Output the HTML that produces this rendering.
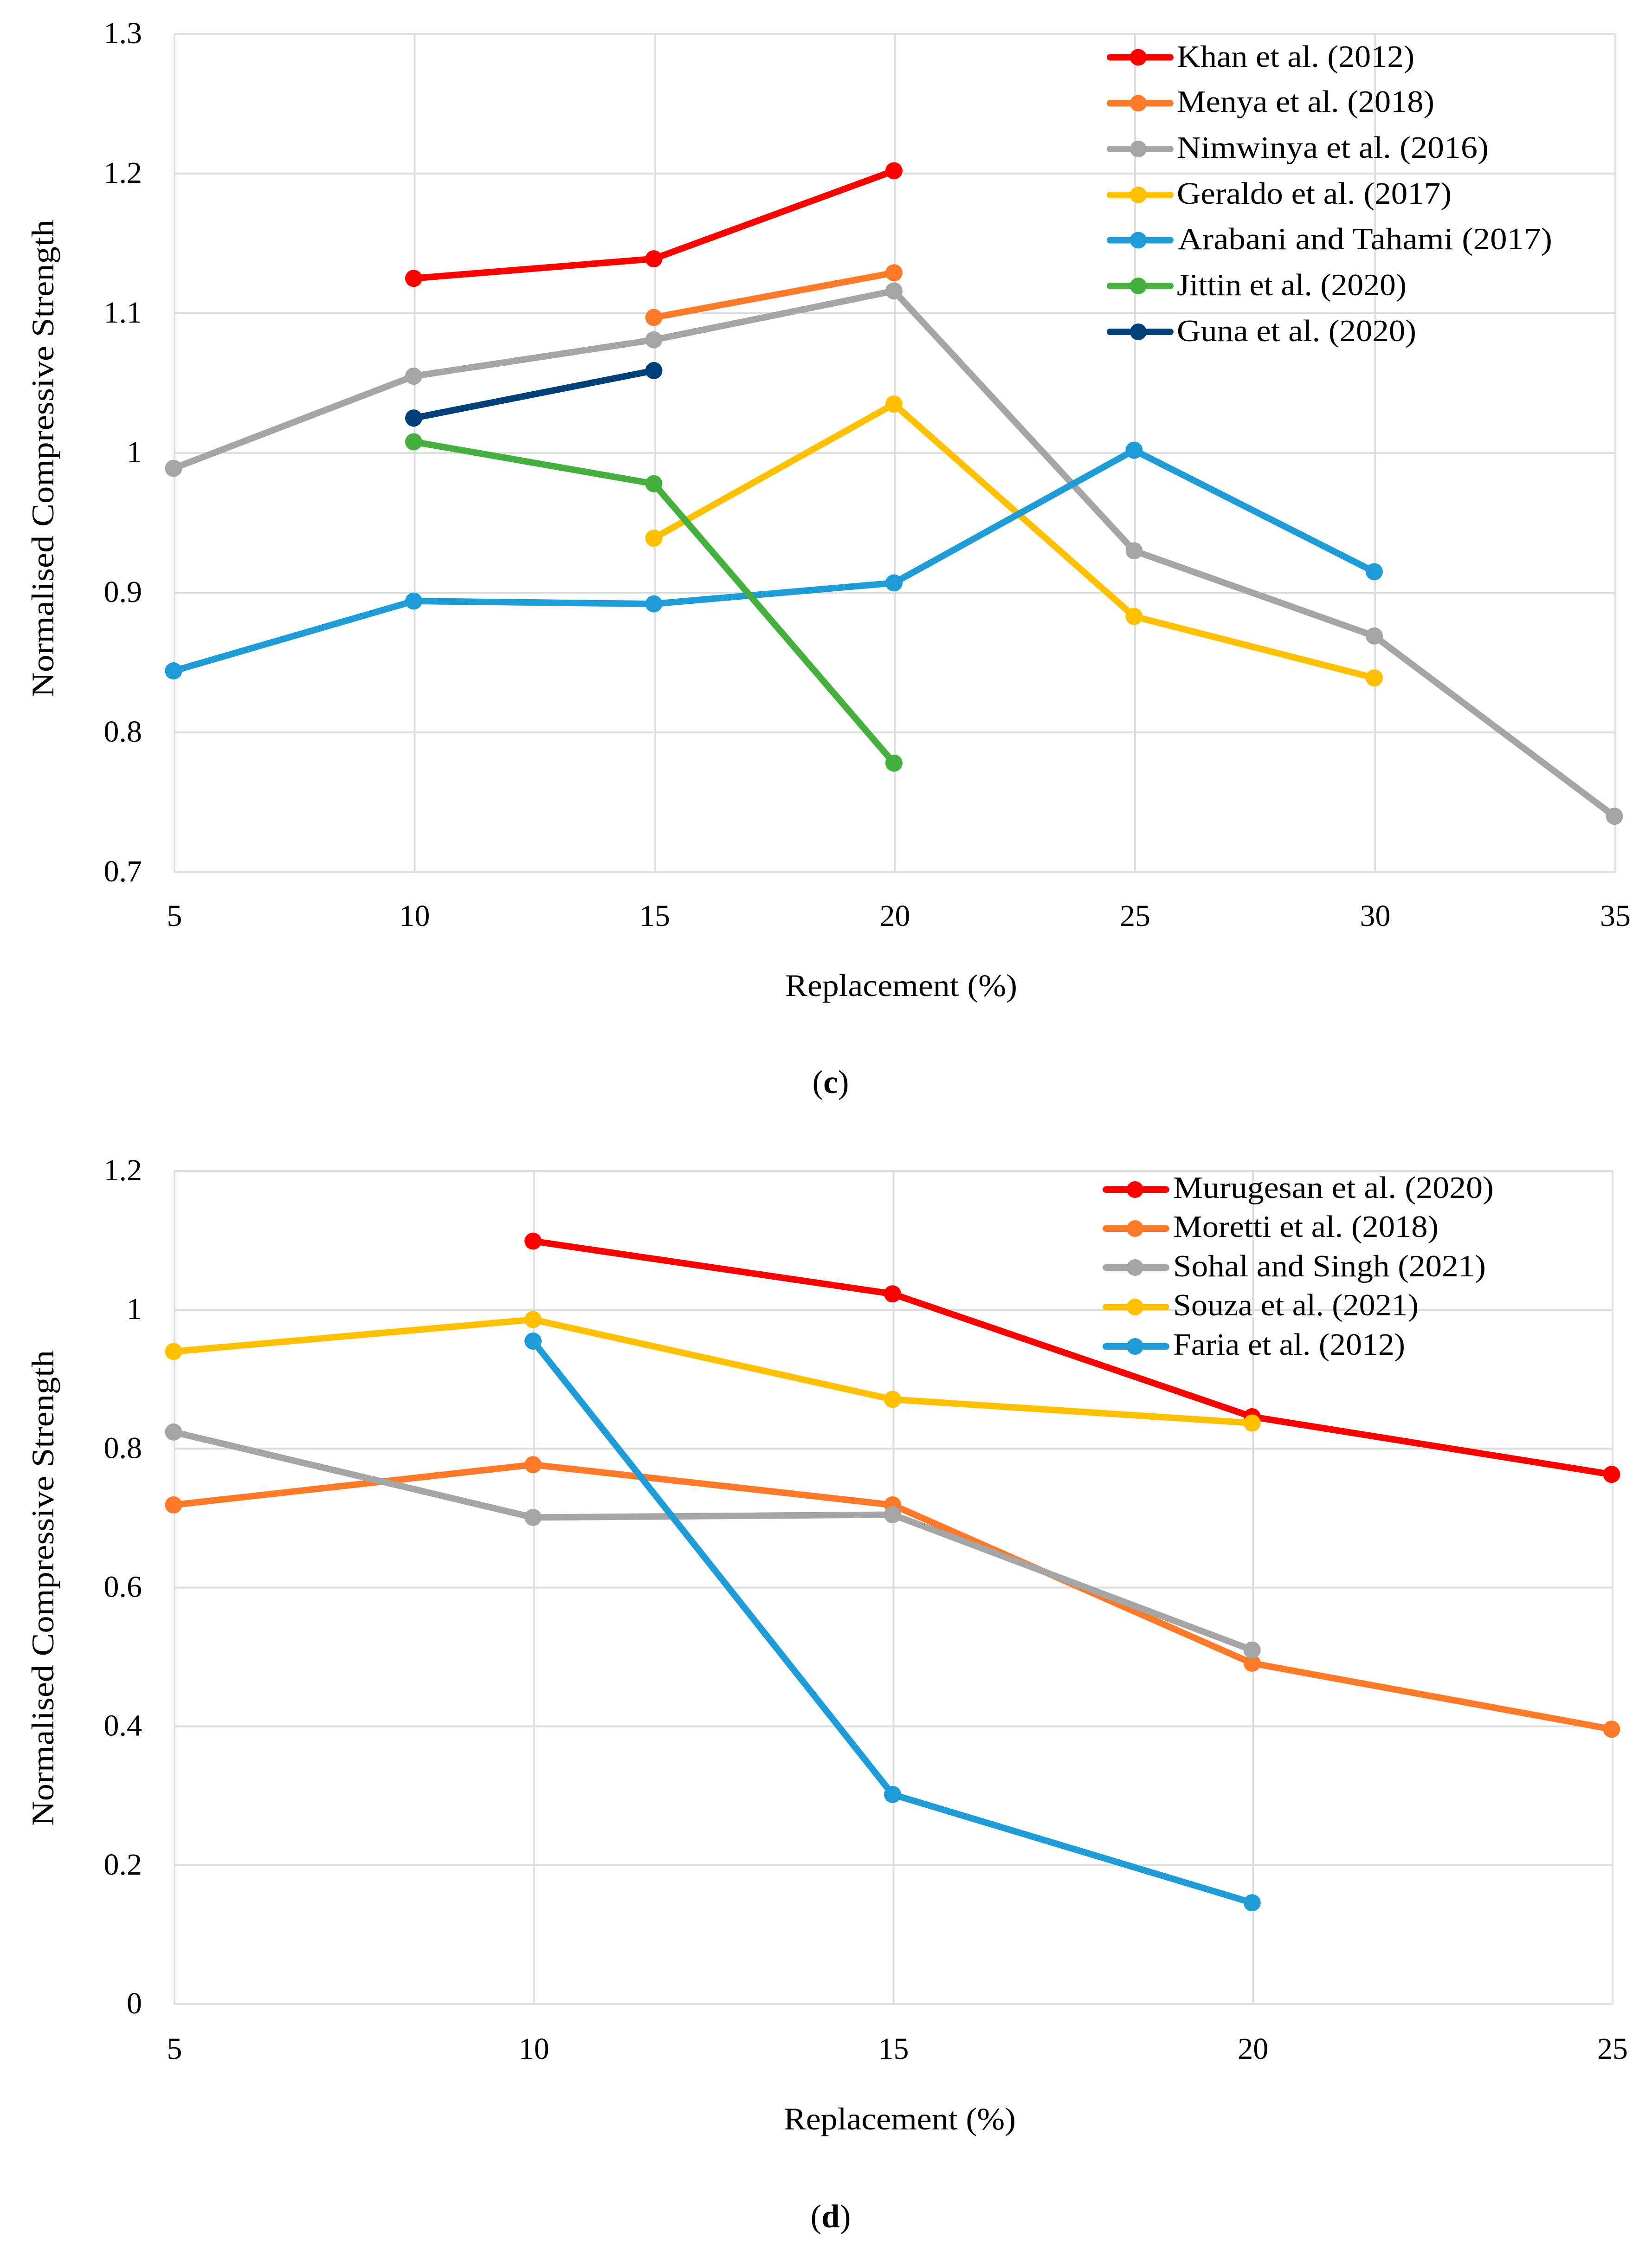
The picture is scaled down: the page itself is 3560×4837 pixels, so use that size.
<!DOCTYPE html>
<html lang="en">
<head>
<meta charset="utf-8">
<title>Normalised Compressive Strength vs Replacement</title>
<style>
html,body{margin:0;padding:0;background:#fff;}
svg{display:block;}
text{font-family:"Liberation Serif",serif;font-size:68px;fill:#000;}
.legend-text{font-size:67px;}
.tick{font-size:66px;}
.caption{font-size:71px;}
</style>
</head>
<body>
<svg id="figure" xmlns="http://www.w3.org/2000/svg" width="3560" height="4837" viewBox="0 0 3560 4837">
  <rect width="3560" height="4837" fill="#ffffff"/>

  <g id="chart-c">
    <g id="c-grid"></g>
    <g id="c-ticks"></g>
    <g id="c-series"></g>
    <text transform="translate(115,1502) rotate(-90)" textLength="1029" lengthAdjust="spacingAndGlyphs">Normalised Compressive Strength</text>
    <text x="1692" y="2146" textLength="500" lengthAdjust="spacingAndGlyphs">Replacement (%)</text>
    <text class="caption" x="1790" y="2355" text-anchor="middle">(<tspan font-weight="bold">c</tspan>)</text>
    <g>
      <g>
        <line x1="2392" x2="2522" y1="123.5" y2="123.5" stroke="#ff0000" stroke-width="14" stroke-linecap="round"/>
        <circle cx="2453" cy="123.5" r="18" fill="#ff0000"/>
        <text class="legend-text" x="2536" y="144" textLength="512" lengthAdjust="spacingAndGlyphs">Khan et al. (2012)</text>
      </g>
      <g>
        <line x1="2392" x2="2522" y1="222.5" y2="222.5" stroke="#fe7a29" stroke-width="14" stroke-linecap="round"/>
        <circle cx="2453" cy="222.5" r="18" fill="#fe7a29"/>
        <text class="legend-text" x="2536" y="241" textLength="555" lengthAdjust="spacingAndGlyphs">Menya et al. (2018)</text>
      </g>
      <g>
        <line x1="2392" x2="2522" y1="321" y2="321" stroke="#a5a5a5" stroke-width="14" stroke-linecap="round"/>
        <circle cx="2453" cy="321" r="18" fill="#a5a5a5"/>
        <text class="legend-text" x="2536" y="340" textLength="672" lengthAdjust="spacingAndGlyphs">Nimwinya et al. (2016)</text>
      </g>
      <g>
        <line x1="2392" x2="2522" y1="420" y2="420" stroke="#ffc000" stroke-width="14" stroke-linecap="round"/>
        <circle cx="2453" cy="420" r="18" fill="#ffc000"/>
        <text class="legend-text" x="2536" y="439" textLength="592" lengthAdjust="spacingAndGlyphs">Geraldo et al. (2017)</text>
      </g>
      <g>
        <line x1="2392" x2="2522" y1="517.5" y2="517.5" stroke="#1e9cd8" stroke-width="14" stroke-linecap="round"/>
        <circle cx="2453" cy="517.5" r="18" fill="#1e9cd8"/>
        <text class="legend-text" x="2538" y="537" textLength="807" lengthAdjust="spacingAndGlyphs">Arabani and Tahami (2017)</text>
      </g>
      <g>
        <line x1="2392" x2="2522" y1="616" y2="616" stroke="#46b03f" stroke-width="14" stroke-linecap="round"/>
        <circle cx="2453" cy="616" r="18" fill="#46b03f"/>
        <text class="legend-text" x="2536" y="636" textLength="495" lengthAdjust="spacingAndGlyphs">Jittin et al. (2020)</text>
      </g>
      <g>
        <line x1="2392" x2="2522" y1="715" y2="715" stroke="#003f78" stroke-width="14" stroke-linecap="round"/>
        <circle cx="2453" cy="715" r="18" fill="#003f78"/>
        <text class="legend-text" x="2536" y="735" textLength="516" lengthAdjust="spacingAndGlyphs">Guna et al. (2020)</text>
      </g>
    </g>
  </g>

  <g id="chart-d">
    <g id="d-grid"></g>
    <g id="d-ticks"></g>
    <g id="d-series"></g>
    <text transform="translate(115,3934) rotate(-90)" textLength="1025" lengthAdjust="spacingAndGlyphs">Normalised Compressive Strength</text>
    <text x="1689" y="4588" textLength="500" lengthAdjust="spacingAndGlyphs">Replacement (%)</text>
    <text class="caption" x="1790" y="4799" text-anchor="middle">(<tspan font-weight="bold">d</tspan>)</text>
    <g>
      <g>
        <line x1="2383" x2="2513" y1="2563" y2="2563" stroke="#ff0000" stroke-width="14" stroke-linecap="round"/>
        <circle cx="2446" cy="2563" r="18" fill="#ff0000"/>
        <text class="legend-text" x="2528" y="2581" textLength="691" lengthAdjust="spacingAndGlyphs">Murugesan et al. (2020)</text>
      </g>
      <g>
        <line x1="2383" x2="2513" y1="2647" y2="2647" stroke="#fe7a29" stroke-width="14" stroke-linecap="round"/>
        <circle cx="2446" cy="2647" r="18" fill="#fe7a29"/>
        <text class="legend-text" x="2528" y="2665" textLength="572" lengthAdjust="spacingAndGlyphs">Moretti et al. (2018)</text>
      </g>
      <g>
        <line x1="2383" x2="2513" y1="2731" y2="2731" stroke="#a5a5a5" stroke-width="14" stroke-linecap="round"/>
        <circle cx="2446" cy="2731" r="18" fill="#a5a5a5"/>
        <text class="legend-text" x="2528" y="2750" textLength="674" lengthAdjust="spacingAndGlyphs">Sohal and Singh (2021)</text>
      </g>
      <g>
        <line x1="2383" x2="2513" y1="2816" y2="2816" stroke="#ffc000" stroke-width="14" stroke-linecap="round"/>
        <circle cx="2446" cy="2816" r="18" fill="#ffc000"/>
        <text class="legend-text" x="2528" y="2834" textLength="529" lengthAdjust="spacingAndGlyphs">Souza et al. (2021)</text>
      </g>
      <g>
        <line x1="2383" x2="2513" y1="2901" y2="2901" stroke="#1e9cd8" stroke-width="14" stroke-linecap="round"/>
        <circle cx="2446" cy="2901" r="18" fill="#1e9cd8"/>
        <text class="legend-text" x="2528" y="2919" textLength="500" lengthAdjust="spacingAndGlyphs">Faria et al. (2012)</text>
      </g>
    </g>
  </g>
</svg>

<script>
// Chart (c) data
const cCategories = [5, 10, 15, 20, 25, 30, 35];
const cYTickValues = [0.7, 0.8, 0.9, 1.0, 1.1, 1.2, 1.3];
const cYTickLabels = ['0.7', '0.8', '0.9', '1', '1.1', '1.2', '1.3'];
const cKhan     = [null, 1.125, 1.139, 1.202, null, null, null];
const cMenya    = [null, null, 1.097, 1.129, null, null, null];
const cNimwinya = [0.989, 1.055, 1.081, 1.116, 0.930, 0.869, 0.740];
const cGeraldo  = [null, null, 0.939, 1.035, 0.883, 0.839, null];
const cArabani  = [0.844, 0.894, 0.892, 0.907, 1.002, 0.915, null];
const cJittin   = [null, 1.008, 0.978, 0.778, null, null, null];
const cGuna     = [null, 1.025, 1.059, null, null, null, null];

// Chart (d) data
const dCategories = [5, 10, 15, 20, 25];
const dYTickValues = [0, 0.2, 0.4, 0.6, 0.8, 1.0, 1.2];
const dYTickLabels = ['0', '0.2', '0.4', '0.6', '0.8', '1', '1.2'];
const dMurugesan = [null, 1.099, 1.023, 0.846, 0.763];
const dMoretti   = [0.719, 0.777, 0.719, 0.491, 0.396];
const dSohal     = [0.824, 0.701, 0.705, 0.510, null];
const dSouza     = [0.940, 0.986, 0.871, 0.837, null];
const dFaria     = [null, 0.955, 0.302, 0.146, null];

const SVG_NS = 'http://www.w3.org/2000/svg';
const MARK_OFFSET_X = -2;

function make(parent, tag, attrs) {
  const el = document.createElementNS(SVG_NS, tag);
  for (const k in attrs) el.setAttribute(k, attrs[k]);
  parent.appendChild(el);
  return el;
}

function drawFrame(prefix, cats, yVals, yLabels, xScale, yScale, xBaseline) {
  const grid = document.getElementById(prefix + '-grid');
  const ticks = document.getElementById(prefix + '-ticks');
  const x0 = xScale(cats[0]);
  const x1 = xScale(cats[cats.length - 1]);
  const yTop = yScale(yVals[yVals.length - 1]);
  const yBot = yScale(yVals[0]);
  yVals.forEach(function (v, i) {
    const line = make(grid, 'line', {x1: x0, x2: x1, y1: yScale(v), y2: yScale(v), stroke: '#dedede', 'stroke-width': 4});
    
    
    const label = make(ticks, 'text', {x: 306, y: yScale(v) + 20, 'text-anchor': 'end', 'class': 'tick'});
    label.textContent = yLabels[i];
    
    
  });
  cats.forEach(function (c) {
    const line = make(grid, 'line', {x1: xScale(c), x2: xScale(c), y1: yTop, y2: yBot, stroke: '#dedede', 'stroke-width': 4});
    
    
    const label = make(ticks, 'text', {x: xScale(c), y: xBaseline, 'text-anchor': 'middle', 'class': 'tick'});
    label.textContent = String(c);
    
    
  });
}

function drawSeries(prefix, cats, values, color, xScale, yScale) {
  const host = document.getElementById(prefix + '-series');
  const group = make(host, 'g', {});
  
  
  const pts = [];
  values.forEach(function (v, i) {
    if (v !== null) pts.push([xScale(cats[i]) + MARK_OFFSET_X, yScale(v)]);
  });
  const line = make(group, 'polyline', {
    points: pts.map(function (p) { return p[0] + ',' + p[1]; }).join(' '),
    fill: 'none', stroke: color, 'stroke-width': 14,
    'stroke-linecap': 'round', 'stroke-linejoin': 'round'
  });
  
  
  pts.forEach(function (p) {
    const dot = make(group, 'circle', {cx: p[0], cy: p[1], r: 18.5, fill: color});
    
    
  });
}

function cX(v) { return 376 + (v - 5) / 30 * (3481 - 376); }
function cY(v) { return 73 + (1.3 - v) / 0.6 * (1879 - 73); }
function dX(v) { return 376 + (v - 5) / 20 * (3475 - 376); }
function dY(v) { return 2523 + (1.2 - v) / 1.2 * (4318 - 2523); }

drawFrame('c', cCategories, cYTickValues, cYTickLabels, cX, cY, 1995);
drawSeries('c', cCategories, cKhan, '#ff0000', cX, cY);
drawSeries('c', cCategories, cMenya, '#fe7a29', cX, cY);
drawSeries('c', cCategories, cNimwinya, '#a5a5a5', cX, cY);
drawSeries('c', cCategories, cGeraldo, '#ffc000', cX, cY);
drawSeries('c', cCategories, cArabani, '#1e9cd8', cX, cY);
drawSeries('c', cCategories, cJittin, '#46b03f', cX, cY);
drawSeries('c', cCategories, cGuna, '#003f78', cX, cY);

drawFrame('d', dCategories, dYTickValues, dYTickLabels, dX, dY, 4436);
drawSeries('d', dCategories, dMurugesan, '#ff0000', dX, dY);
drawSeries('d', dCategories, dMoretti, '#fe7a29', dX, dY);
drawSeries('d', dCategories, dSohal, '#a5a5a5', dX, dY);
drawSeries('d', dCategories, dSouza, '#ffc000', dX, dY);
drawSeries('d', dCategories, dFaria, '#1e9cd8', dX, dY);
</script>
</body>
</html>
